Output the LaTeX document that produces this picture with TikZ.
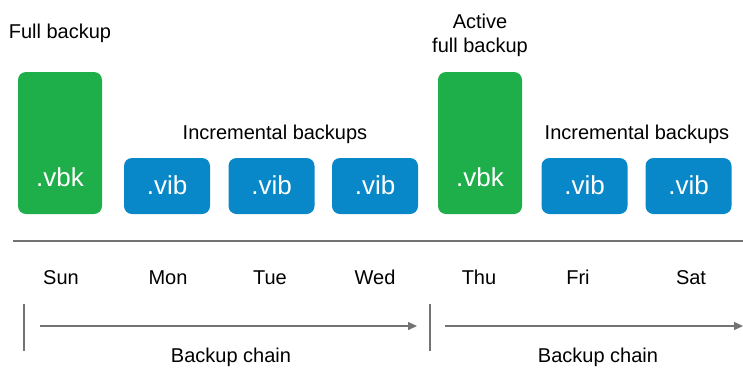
\documentclass[tikz,border=0pt]{standalone}
\usepackage{fontspec}
\setmainfont{Liberation Sans}
\usetikzlibrary{arrows.meta}
\definecolor{vgreen}{RGB}{30,174,74}
\definecolor{vblue}{RGB}{8,136,200}
\definecolor{lgray}{RGB}{115,115,115}
\tikzset{
  fullbox/.style={fill=vgreen, draw=none, rounded corners=8pt, minimum width=84pt, minimum height=142pt, inner sep=0pt},
  incbox/.style={fill=vblue, draw=none, rounded corners=8pt, minimum width=86pt, minimum height=56pt, inner sep=0pt},
  boxtxt/.style={text=white, anchor=base, inner sep=0pt, font=\fontsize{26}{30}\selectfont},
  lbl/.style={anchor=base, inner sep=0pt, font=\fontsize{20}{24}\selectfont, text=black},
  axis/.style={draw=lgray, line width=1.6pt},
  chain/.style={draw=lgray, line width=1.4pt, -{Triangle[length=9pt,width=8pt]}},
  tick/.style={draw=lgray, line width=1.4pt},
}
\begin{document}
\begin{tikzpicture}[x=1pt,y=-1pt]
\useasboundingbox (0,0) rectangle (743,368);
% boxes
\node[fullbox] (f1) at (60,143) {};
\node[incbox] (i1) at (167,186) {};
\node[incbox] (i2) at (271.5,186) {};
\node[incbox] (i3) at (375,186) {};
\node[fullbox] (f2) at (480,143) {};
\node[incbox] (i4) at (584.5,186) {};
\node[incbox] (i5) at (688.5,186) {};
% box texts
\node[boxtxt] (tf1) at (60,186) {.vbk};
\node[boxtxt] (ti1) at (167,194) {.vib};
\node[boxtxt] (ti2) at (271.5,194) {.vib};
\node[boxtxt] (ti3) at (375,194) {.vib};
\node[boxtxt] (tf2) at (480,186) {.vbk};
\node[boxtxt] (ti4) at (584.5,194) {.vib};
\node[boxtxt] (ti5) at (688.5,194) {.vib};
% headings
\node[lbl] (hfull) at (60,38) {Full backup};
\node[lbl] (hact1) at (480,28) {Active};
\node[lbl] (hact2) at (480,52) {full backup};
\node[lbl] (hinc1) at (275,139) {Incremental backups};
\node[lbl] (hinc2) at (637,139) {Incremental backups};
% axis
\coordinate (axL) at (13,241);
\coordinate (axR) at (743,241);
\draw[axis] (axL) -- (axR);
% days
\node[lbl] (sun) at (61,284) {Sun};
\node[lbl] (mon) at (168,284) {Mon};
\node[lbl] (tue) at (270,284) {Tue};
\node[lbl] (wed) at (375,284) {Wed};
\node[lbl] (thu) at (479,284) {Thu};
\node[lbl] (fri) at (578,284) {Fri};
\node[lbl] (sat) at (691,284) {Sat};
% chains
\coordinate (t1a) at (24,304);
\coordinate (t1b) at (24,351);
\coordinate (t2a) at (430,304);
\coordinate (t2b) at (430,351);
\draw[tick] (t1a) -- (t1b);
\draw[tick] (t2a) -- (t2b);
\coordinate (c1s) at (40,326);
\coordinate (c1e) at (417,326);
\coordinate (c2s) at (445,326);
\coordinate (c2e) at (743,326);
\draw[chain] (c1s) -- (c1e);
\draw[chain] (c2s) -- (c2e);
\node[lbl] (bc1) at (231,362) {Backup chain};
\node[lbl] (bc2) at (598,362) {Backup chain};
\end{tikzpicture}
\end{document}
